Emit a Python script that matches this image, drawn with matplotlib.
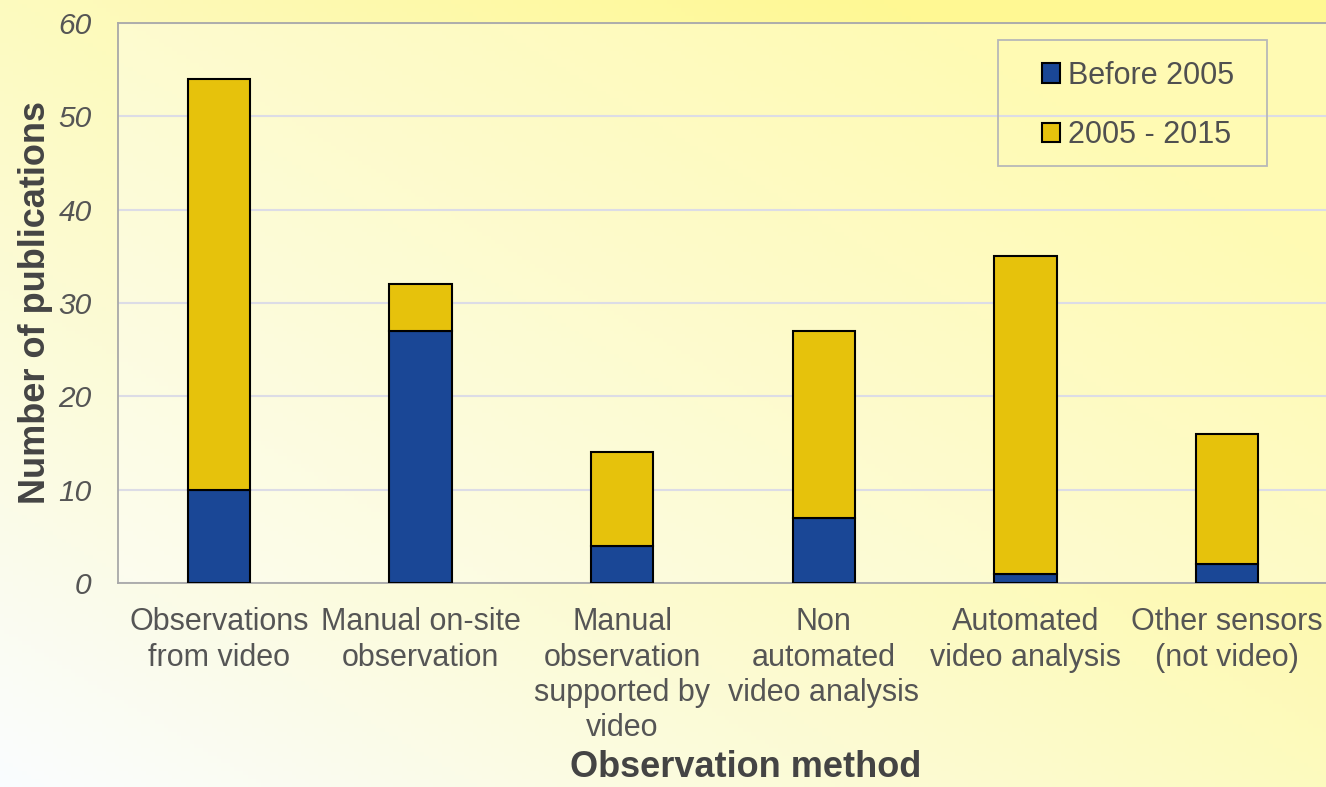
"""
Observation method vs number of publications (stacked bars)
"""

import numpy as np
import matplotlib
matplotlib.use("Agg")
import matplotlib.pyplot as plt
from matplotlib.patches import Rectangle

plt.rcParams['font.family'] = ['Liberation Sans', 'DejaVu Sans']

# data
methods = ["Observations\nfrom video", "Manual on-site\nobservation",
           "Manual\nobservation\nsupported by\nvideo", "Non\nautomated\nvideo analysis",
           "Automated\nvideo analysis", "Other sensors\n(not video)"]
before_2005 = [10, 27, 4, 7, 1, 2]
from_2005_to_2015 = [44, 5, 10, 20, 34, 14]
series_names = ["Before 2005", "2005 - 2015"]
y_ticks = [0, 10, 20, 30, 40, 50, 60]

blue = '#1a4796'
yellow = '#e6c20c'

fig = plt.figure(figsize=(13.26, 7.87), dpi=100)

# background gradient (white bottom-left -> yellow top/right)
bg = fig.add_axes([0, 0, 1, 1], zorder=-1)
gx, gy = np.meshgrid(np.linspace(0, 1, 300), np.linspace(0, 1, 200))
t = np.clip(0.6 * gx + 0.6 * gy, 0, 1)
white = np.array([0.98, 0.99, 1.0])
yel = np.array([1.0, 0.975, 0.58])
img = white[None, None, :] * (1 - t[..., None]) + yel[None, None, :] * t[..., None]
bg.imshow(img, origin='lower', aspect='auto', extent=[0, 1, 0, 1])
bg.axis('off')

ax = fig.add_axes([0.089, 0.2592, 0.9125, 0.7116])
ax.set_facecolor((1, 1, 1, 0.3))

x = np.arange(len(methods))
w = 0.31
ax.bar(x, before_2005, w, color=blue, edgecolor='black', linewidth=1.5,
       label=series_names[0], zorder=3)
ax.bar(x, from_2005_to_2015, w, bottom=before_2005, color=yellow,
       edgecolor='black', linewidth=1.5, label=series_names[1], zorder=3)

ax.set_xlim(-0.5, 5.5)
ax.set_ylim(0, 60)
ax.set_yticks(y_ticks)
ax.set_yticklabels([str(v) for v in y_ticks], fontstyle='italic')
ax.set_xticks(x)
ax.set_xticklabels(methods, linespacing=1.23)
ax.tick_params(axis='y', length=0, pad=19, labelsize=21.5, labelcolor='#555555')
ax.tick_params(axis='x', length=0, pad=17.5, labelsize=22, labelcolor='#555555')
ax.grid(axis='y', color='#dcdce6', linewidth=1.5, zorder=0)
ax.set_axisbelow(True)
for s in ax.spines.values():
    s.set_color('#a8a8a8')
    s.set_linewidth(1.3)
ax.spines['right'].set_visible(False)

ax.set_ylabel("Number of publications", fontsize=26, fontweight='bold',
              color='#444444', labelpad=4)
ax.set_xlabel("Observation method", fontsize=26, fontweight='bold',
              color='#444444')
ax.xaxis.set_label_coords(0.519, -0.299)

# legend frame drawn separately so the padding matches
ax.add_patch(Rectangle((0.7273, 0.7446), 0.9496 - 0.7273, 0.9696 - 0.7446,
                       transform=ax.transAxes, fill=False, edgecolor='#b8b8b8',
                       linewidth=1.3, zorder=4))
leg = ax.legend(loc='center left', bbox_to_anchor=(0.7636, 0.8527),
                borderaxespad=0, borderpad=0, fontsize=22, frameon=False,
                handlelength=0.6, handleheight=0.6, handletextpad=0.26,
                labelspacing=0.96, labelcolor='#505050')

plt.savefig('out.png', dpi=100)
